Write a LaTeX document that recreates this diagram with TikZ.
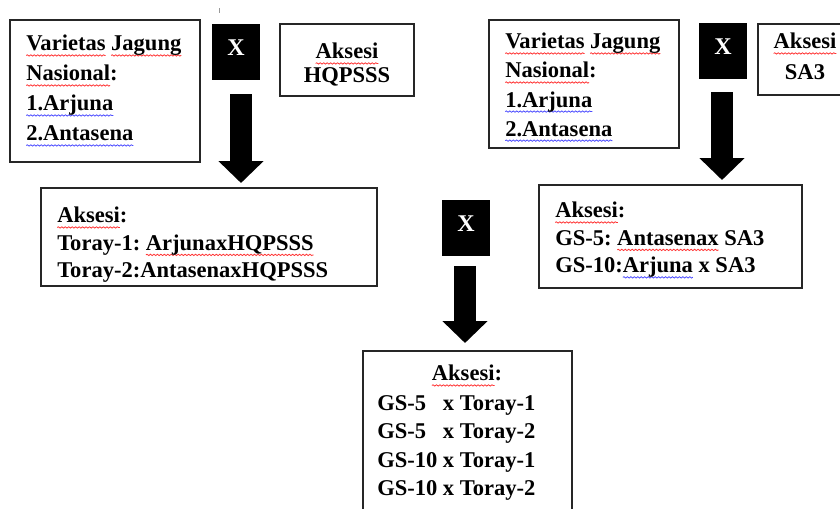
\documentclass[tikz,border=0pt]{standalone}
\usepackage{fontspec}
\setmainfont{Liberation Serif}
\usetikzlibrary{fit,arrows.meta,positioning,decorations.pathmorphing}
\frenchspacing

\newsavebox\spellbox
\newdimen\spellwd
\newcommand\spell[2]{\sbox\spellbox{#2}\spellwd=\wd\spellbox\relax%
  \rlap{\tikz[overlay,baseline=0pt]\draw[#1,line width=0.6pt,decorate,%
    decoration={snake,amplitude=0.5pt,segment length=2.6pt}] (0pt,-3.4pt) -- (\spellwd,-3.4pt);}\usebox\spellbox}
\newcommand\sred[1]{\spell{red!80}{#1}}
\newcommand\sblue[1]{\spell{blue!70}{#1}}

\tikzset{
  box/.style={draw=black!85, line width=1pt, inner sep=0pt},
  txt/.style={font=\bfseries\fontsize{16.9}{21}\selectfont, align=left, inner sep=0pt, anchor=north west},
  xmark/.style={fill=black, text=white, font=\bfseries\fontsize{18}{18}\selectfont,
    minimum width=36pt, minimum height=42pt, inner sep=0pt, text depth=6pt},
  fatarrow/.style={line width=16.5pt, -{Triangle[length=16.5pt, width=33pt]}}
}

\begin{document}
\begin{tikzpicture}[x=0.75pt, y=-0.75pt]
        \useasboundingbox (0,0) rectangle (840,508);
        \clip (0,0) rectangle (840,508);
        \draw[black!40, line width=0.5pt] (219,8) -- (219,13);
        % national varieties
        \node[box, fit={(10,20) (200,162)}] (jagA) {};
        \node[txt, font=\bfseries\fontsize{16.9}{22.5}\selectfont] (jagAtxt) at (26,35)
          {\sred{Varietas} \sred{Jagung}\\ \sred{Nasional}:\\ \sblue{1.Arjuna}\\ \sblue{2.Antasena}};
        \node[box, fit={(489,20) (679,148)}] (jagB) {};
        \node[txt, font=\bfseries\fontsize{16.9}{21.8}\selectfont] (jagBtxt) at (505,33)
          {\sred{Varietas} \sred{Jagung}\\ \sred{Nasional}:\\ \sblue{1.Arjuna}\\ \sblue{2.Antasena}};
        % accessions
        \node[box, fit={(280,24) (414,96)}] (hqp) {};
        \node[txt, anchor=north, align=center, font=\bfseries\fontsize{16.9}{18}\selectfont] (hqptxt) at (347,43)
          {\sred{Aksesi}\\ HQPSSS};
        \node[box, fit={(758,24) (852,95)}] (sa) {};
        \node[txt, anchor=north, align=center, font=\bfseries\fontsize{16.9}{23}\selectfont] (satxt) at (805,33)
          {\sred{Aksesi}\\ SA3};
        % crosses
        \foreach \n/\x/\y in {1/236/52, 2/723/50.5, 3/466/228}
          \node[xmark] (cross\n) at (\x,\y) {X};
        % first offspring
        \node[box, fit={(41,188) (377,286)}] (toray) {};
        \begin{scope}
          \clip (41,188) rectangle (377,281);
          \node[txt, font=\bfseries\fontsize{16.9}{20.6}\selectfont] (toraytxt) at (57,207)
            {\sred{Aksesi}:\\ Toray-1: \sred{ArjunaxHQPSSS}\\ Toray-2:AntasenaxHQPSSS};
        \end{scope}
        \node[box, fit={(539,185) (802,288)}] (gs) {};
        \node[txt, font=\bfseries\fontsize{16.9}{20.6}\selectfont] (gstxt) at (555,202)
          {\sred{Aksesi}:\\ GS-5: \sred{Antasenax} SA3\\ GS-10:\sblue{Arjuna} x SA3};
        % final crosses
        \node[box, fit={(363,351) (572,540)}] (final) {};
        \node[txt, anchor=north] (finalhead) at (467,365) {\sred{Aksesi}:};
        \node[txt, font=\bfseries\fontsize{16.9}{21.4}\selectfont] (finaltxt) at (377,395)
          {GS-5\ \ \ x Toray-1\\ GS-5\ \ \ x Toray-2\\ GS-10 x Toray-1\\ GS-10 x Toray-2};
        % arrows
        \foreach \n/\x/\ya/\yb in {1/241/94/183, 2/722/92/180, 3/465/266/343} {
          \coordinate (top\n) at (\x,\ya);
          \coordinate (tip\n) at (\x,\yb);
          \draw[fatarrow] (top\n) -- (tip\n);
        }
      \end{tikzpicture}
\end{document}
